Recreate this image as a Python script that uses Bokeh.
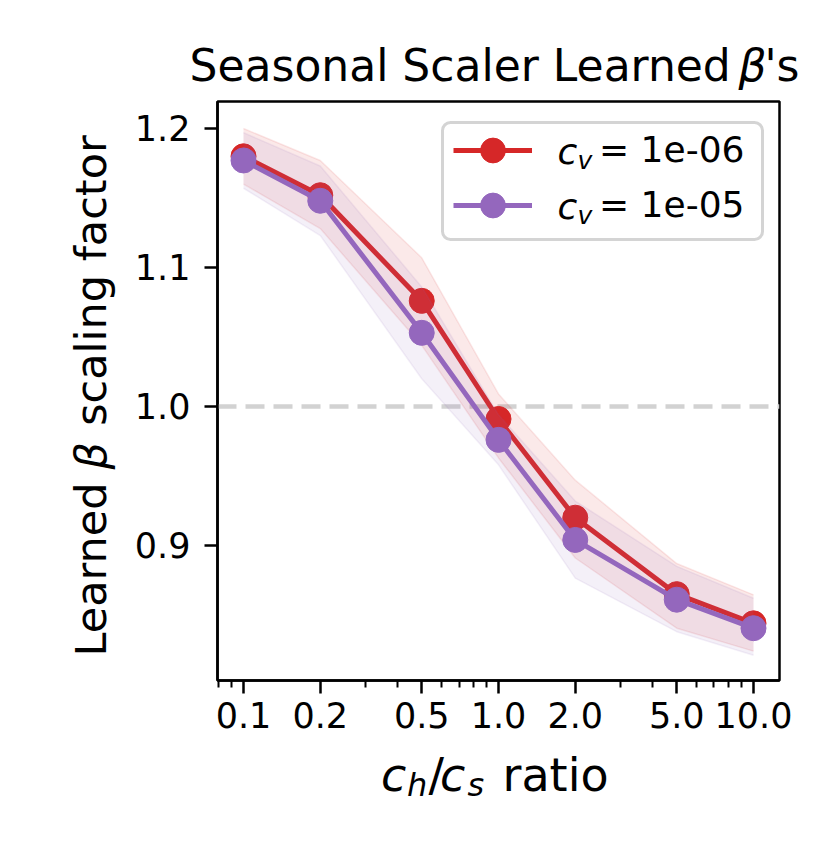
import math
from bokeh.plotting import figure
from bokeh.layouts import column, row
from bokeh.models import (Range1d, FixedTicker, CustomJSTickFormatter, Label, Span,
                          BoxAnnotation, Legend, LegendItem, ColumnDataSource)
from bokeh.embed import file_html
from bokeh.resources import INLINE

# ---------------- data ----------------
ratios = [0.1, 0.2, 0.5, 1.0, 2.0, 5.0, 10.0]
cv6_mean = [1.180, 1.152, 1.076, 0.991, 0.920, 0.865, 0.844]
cv6_low = [1.160, 1.128, 1.044, 0.963, 0.891, 0.8405, 0.824]
cv6_high = [1.200, 1.177, 1.107, 1.009, 0.947, 0.887, 0.8645]
cv5_mean = [1.177, 1.148, 1.053, 0.976, 0.904, 0.861, 0.8405]
cv5_low = [1.157, 1.123, 1.020, 0.958, 0.8765, 0.838, 0.821]
cv5_high = [1.197, 1.173, 1.086, 0.994, 0.932, 0.885, 0.862]
series_labels = ["1e-06", "1e-05"]
x_ticks = [0.1, 0.2, 0.5, 1.0, 2.0, 5.0, 10.0]
x_minor = [0.08, 0.09, 0.3, 0.4, 0.6, 0.7, 0.8, 0.9, 3, 4, 6, 7, 8, 9]
y_ticks = [0.9, 1.0, 1.1, 1.2]

RED = "#d62728"
PURPLE = "#9467bd"
FONT = "DejaVu Sans"

W, H = 813, 835
TOP_H = 91            # title strip height
LEFT_W = 130          # y-label strip width
MAIN_BOTTOM = 748     # page y where main figure ends
FL, FT, FW, FH = 217, 101, 562, 579   # frame in page px
FB = FT + FH
BASE_FIX = 0.33       # alphabetic-baseline correction (em) observed for Label text


def text_strip(width, height):
    f = figure(width=width, height=height, output_backend="svg", toolbar_location=None,
               title=None, x_range=Range1d(0, width), y_range=Range1d(0, height),
               x_axis_location=None, y_axis_location=None, min_border=0)
    f.outline_line_color = None
    f.xgrid.visible = False
    f.ygrid.visible = False
    f.background_fill_color = "white"
    f.border_fill_color = "white"
    return f


def put(f, txt, x, baseline_from_bottom, size, style="normal"):
    f.add_layout(Label(x=x, y=baseline_from_bottom + BASE_FIX * size, text=txt,
                       text_font=FONT, text_font_style=style,
                       text_font_size=f"{size}px", text_color="black",
                       text_baseline="alphabetic", text_align="left"))


# ---------------- main plot ----------------
MAIN_W = W - LEFT_W
MAIN_H = MAIN_BOTTOM - TOP_H
p = figure(width=MAIN_W, height=MAIN_H, x_axis_type="log",
           x_range=Range1d(10 ** -1.102, 10 ** 1.102), y_range=Range1d(0.80287, 1.21942),
           output_backend="svg", toolbar_location=None,
           min_border_left=FL - LEFT_W, min_border_right=MAIN_W - (FL - LEFT_W) - FW,
           min_border_top=FT - TOP_H, min_border_bottom=MAIN_H - (FT - TOP_H) - FH)
p.xgrid.visible = False
p.ygrid.visible = False
p.outline_line_color = "black"
p.outline_line_width = 2.5
p.background_fill_color = "white"
p.border_fill_color = "white"

for ax in (p.xaxis[0], p.yaxis[0]):
    ax.axis_line_color = "black"
    ax.axis_line_width = 2.5
    ax.major_tick_line_width = 2.5
    ax.minor_tick_line_width = 2
    ax.major_tick_in = 0
    ax.major_tick_out = 13
    ax.minor_tick_in = 0
    ax.minor_tick_out = 7
    ax.major_label_text_font = FONT
    ax.major_label_text_font_size = "35px"
    ax.major_label_text_color = "black"
    ax.formatter = CustomJSTickFormatter(code="return tick.toFixed(1);")

p.xaxis.ticker = FixedTicker(ticks=x_ticks, minor_ticks=x_minor)
p.yaxis.ticker = FixedTicker(ticks=y_ticks, minor_ticks=[])
p.xaxis.major_label_standoff = 8
p.yaxis.major_label_standoff = 14

# reference line
p.add_layout(Span(location=1.0, dimension="width", line_color="#d2d2d2", line_width=4.5,
                  line_dash="19 9", level="underlay"))

src6 = ColumnDataSource(dict(x=ratios, m=cv6_mean, lo=cv6_low, hi=cv6_high))
src5 = ColumnDataSource(dict(x=ratios, m=cv5_mean, lo=cv5_low, hi=cv5_high))

p.varea(x="x", y1="lo", y2="hi", source=src6, fill_color=RED, fill_alpha=0.1)
p.line(x="x", y="lo", source=src6, line_color=RED, line_alpha=0.1, line_width=1.5)
p.line(x="x", y="hi", source=src6, line_color=RED, line_alpha=0.1, line_width=1.5)
l6 = p.line(x="x", y="m", source=src6, line_color=RED, line_width=5)
s6 = p.scatter(x="x", y="m", source=src6, size=25, fill_color=RED, line_color=RED)

p.varea(x="x", y1="lo", y2="hi", source=src5, fill_color=PURPLE, fill_alpha=0.1)
p.line(x="x", y="lo", source=src5, line_color=PURPLE, line_alpha=0.1, line_width=1.5)
p.line(x="x", y="hi", source=src5, line_color=PURPLE, line_alpha=0.1, line_width=1.5)
l5 = p.line(x="x", y="m", source=src5, line_color=PURPLE, line_width=5)
s5 = p.scatter(x="x", y="m", source=src5, size=25, fill_color=PURPLE, line_color=PURPLE)

# legend frame
p.add_layout(BoxAnnotation(left=442 - FL, right=762 - FL, top=FB - 122, bottom=FB - 239,
                           left_units="screen", right_units="screen",
                           top_units="screen", bottom_units="screen",
                           fill_color="white", fill_alpha=0.8,
                           line_color="#d4d4d4", line_alpha=1.0, line_width=3,
                           border_radius=8))

# one single-row legend per series (row height 62 -> centre = bottom - 31)
row_centres = [149.5, 204.5]
for lab, rends, cy in zip(series_labels, [[l6, s6], [l5, s5]], row_centres):
    lg = Legend(items=[LegendItem(label="= " + lab, renderers=rends)],
                location=(453 - FL, FB - (cy + 31)), orientation="vertical",
                glyph_width=79, glyph_height=62, spacing=0, padding=0, margin=0,
                label_standoff=67, label_text_font=FONT, label_text_font_size="36px",
                label_text_color="black",
                border_line_color=None, background_fill_alpha=0)
    p.add_layout(lg)
    base = cy + 13
    p.add_layout(Label(x=557 - FL, y=FB - base + BASE_FIX * 36, x_units="screen",
                       y_units="screen", text="c", text_font=FONT,
                       text_font_style="italic", text_font_size="36px",
                       text_color="black", text_baseline="alphabetic"))
    p.add_layout(Label(x=577 - FL, y=FB - base - 5.5 + BASE_FIX * 25, x_units="screen",
                       y_units="screen", text="v", text_font=FONT,
                       text_font_style="italic", text_font_size="25px",
                       text_color="black", text_baseline="alphabetic"))

# ---------------- title strip ----------------
top = text_strip(W, TOP_H)
tb = TOP_H - 80
put(top, "Seasonal Scaler Learned", 189, tb, 44)
put(top, "β", 738, tb, 44, "italic")
put(top, "'s", 764, tb, 44)

# ---------------- y-label strip (its frame is aligned with the main frame vertically) ----
left = text_strip(LEFT_W, MAIN_H)
YS = 43
ybx = 105 - BASE_FIX * YS
for txt, page_y, style in [("Learned", 656, "normal"), ("β", 469, "italic"),
                           ("scaling factor", 425.3, "normal")]:
    left.add_layout(Label(x=ybx, y=FB - page_y, x_units="screen", y_units="screen",
                          text=txt, angle=math.pi / 2, text_font=FONT,
                          text_font_style=style, text_font_size=f"{YS}px",
                          text_color="black", text_baseline="alphabetic",
                          text_align="left"))

# ---------------- x-label strip ----------------
BOT_H = H - MAIN_BOTTOM
bot = text_strip(W, BOT_H)
main_b = H - 790
sub_b = H - 795
put(bot, "c", 380.5, main_b, 46, "italic")
put(bot, "h", 406.5, sub_b, 32, "italic")
put(bot, "/", 428, main_b, 46)
put(bot, "c", 439.5, main_b, 46, "italic")
put(bot, "s", 467, sub_b, 32, "italic")
put(bot, "ratio", 502, main_b, 46)

layout = column(top, row(left, p), bot)
open("out.html", "w").write(file_html(layout, INLINE))
